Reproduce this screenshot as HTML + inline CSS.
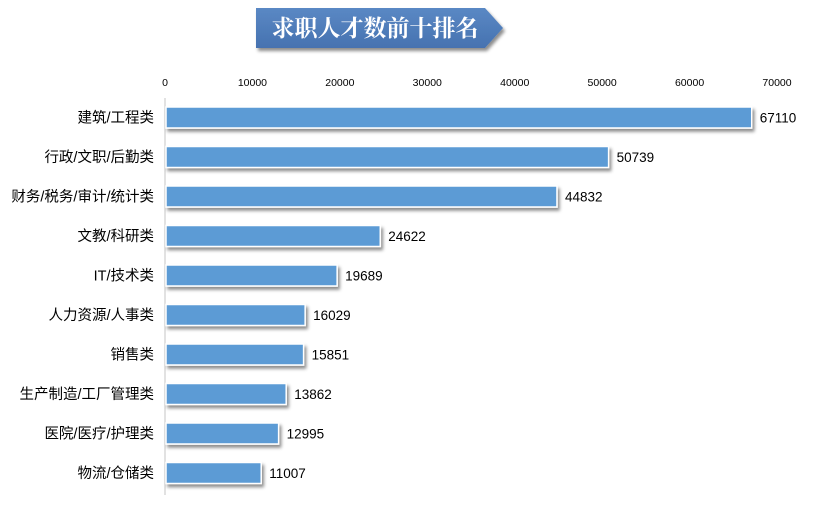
<!DOCTYPE html>
<html><head><meta charset="utf-8"><style>
body{margin:0;background:#fff;width:819px;height:501px;overflow:hidden;font-family:"Liberation Sans","Noto Sans CJK SC",sans-serif}
</style></head><body>
<svg width="819" height="501" xmlns="http://www.w3.org/2000/svg">
<defs>
<filter id="sh" x="-10%" y="-30%" width="120%" height="180%"><feDropShadow dx="2" dy="3" stdDeviation="1.5" flood-color="#000" flood-opacity="0.45"/></filter>
<linearGradient id="tg" x1="0" y1="0" x2="0" y2="1"><stop offset="0" stop-color="#5a88c4"/><stop offset="1" stop-color="#4672b0"/></linearGradient>
</defs>
<g>
<polygon points="256,8 485,8 503,28 485,48 256,48" fill="url(#tg)" filter="url(#sh)"/>
<text x="375" y="36" text-anchor="middle" font-family="'Liberation Serif','Noto Serif CJK SC',serif" font-size="23" font-weight="bold" fill="#fff">求职人才数前十排名</text>
</g>
<line x1="165" y1="98" x2="165" y2="495" stroke="#d9d9d9" stroke-width="1.5"/>
<g id="ticks"></g>
<g id="bars"></g>
</svg>
<script>
const categories=["建筑/工程类","行政/文职/后勤类","财务/税务/审计/统计类","文教/科研类","IT/技术类","人力资源/人事类","销售类","生产制造/工厂管理类","医院/医疗/护理类","物流/仓储类"];
const values=[67110,50739,44832,24622,19689,16029,15851,13862,12995,11007];
const tickValues=[0,10000,20000,30000,40000,50000,60000,70000];
const NS="http://www.w3.org/2000/svg";
const x0=165,x1=777,vmax=70000;
function xs(v){return x0+(v/vmax)*(x1-x0);}
function yc(i){return 117.5+i*39.5;}
const tg=document.getElementById('ticks');
tickValues.forEach(t=>{const e=document.createElementNS(NS,'text');


e.setAttribute('x',xs(t));e.setAttribute('y',86);e.setAttribute('text-anchor','middle');e.setAttribute('font-size','10.5');e.setAttribute('fill','#000');e.textContent=t;tg.appendChild(e);});
const bg=document.getElementById('bars');
values.forEach((v,i)=>{const y=yc(i);
const r=document.createElementNS(NS,'rect');


r.setAttribute('x',x0+1);r.setAttribute('y',y-10.5);r.setAttribute('width',xs(v)-x0-1);r.setAttribute('height',21);r.setAttribute('fill','#5b9bd5');r.setAttribute('stroke','#fff');r.setAttribute('stroke-width','1.5');r.setAttribute('filter','url(#sh)');bg.appendChild(r);
const l=document.createElementNS(NS,'text');


l.setAttribute('x',xs(v)+8);l.setAttribute('y',y+5);l.setAttribute('font-size','13.5');l.setAttribute('fill','#000');l.textContent=v;bg.appendChild(l);
const c=document.createElementNS(NS,'text');


c.setAttribute('x',154);c.setAttribute('y',y+5);c.setAttribute('text-anchor','end');c.setAttribute('font-size','14.5');c.setAttribute('fill','#000');c.textContent=categories[i];bg.appendChild(c);
});
</script>
</body></html>
